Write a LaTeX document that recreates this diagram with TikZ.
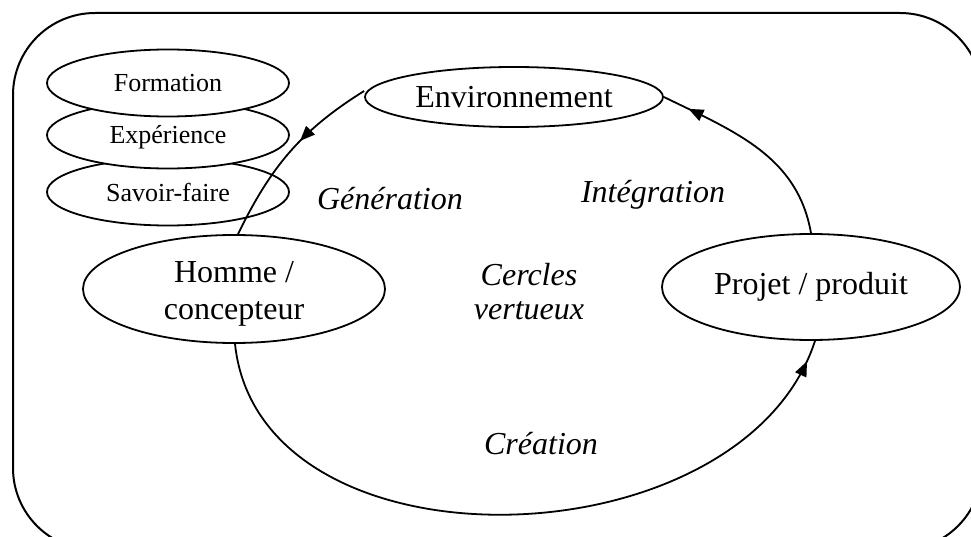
\documentclass[tikz,border=0pt]{standalone}
\usepackage{fontspec}
\setmainfont{Liberation Serif}
\usetikzlibrary{shapes.geometric,arrows.meta,decorations.markings}

\begin{document}
\begin{tikzpicture}[x=1pt,y=-1pt,line width=1.8pt,
  bubble/.style={draw,ellipse,fill=white,inner sep=0pt,align=center,
    font=\fontsize{32}{37}\selectfont},
  skill/.style={draw,ellipse,fill=white,inner sep=0pt,
    minimum width=242pt,minimum height=67pt,font=\fontsize{26}{30}\selectfont},
  phase/.style={font=\fontsize{32}{34}\selectfont\itshape,align=center},
  tipat/.style={postaction={decorate},decoration={markings,
    mark=at position #1 with {\arrow{Triangle[length=15pt,width=12pt]}}}}
]
\useasboundingbox (0,0) rectangle (971,537);
\clip (0,0) rectangle (971,537);

% outer frame
\draw[line width=2pt,rounded corners=82pt] (13,13) rectangle (982,550);

% stacked skills
\node[skill] (savoir) at (168,192) {Savoir-faire};
\node[skill] (exp)    at (168,135) {\raisebox{-2pt}[\height][\depth]{Expérience}};
\node[skill] (form)   at (168,83)  {Formation};

% main actors
\node[bubble,minimum width=298pt,minimum height=60pt] (env) at (514,97) {Environnement};
\node[bubble,minimum width=302pt,minimum height=108pt] (homme) at (234,289)
  {\raisebox{-5pt}[\height][\depth]{\begin{tabular}{@{}c@{}}Homme /\\concepteur\end{tabular}}};
\node[bubble,minimum width=298pt,minimum height=106pt] (projet) at (811,287) {Projet / produit};

% virtuous cycle
\coordinate (envW) at ([yshift=6pt]env.west);
\draw[tipat=0.42] (envW) to[out=212,in=64] ([xshift=4pt]homme.north);
\draw[tipat=0.97] ([xshift=1pt]homme.south) to[out=-84,in=-108,looseness=1.04] ([xshift=4pt]projet.south);
\draw[tipat=0.87] (projet.north) to[out=100,in=-26] (env.east);

% phase labels
\node[phase] (gen)   at (390,199) {Génération};
\node[phase] (integ) at (653,195) {Intégration};
\node[phase] (cerc)  at (529,292) {Cercles\\vertueux};
\node[phase] (crea)  at (541,444) {Création};
\end{tikzpicture}
\end{document}
